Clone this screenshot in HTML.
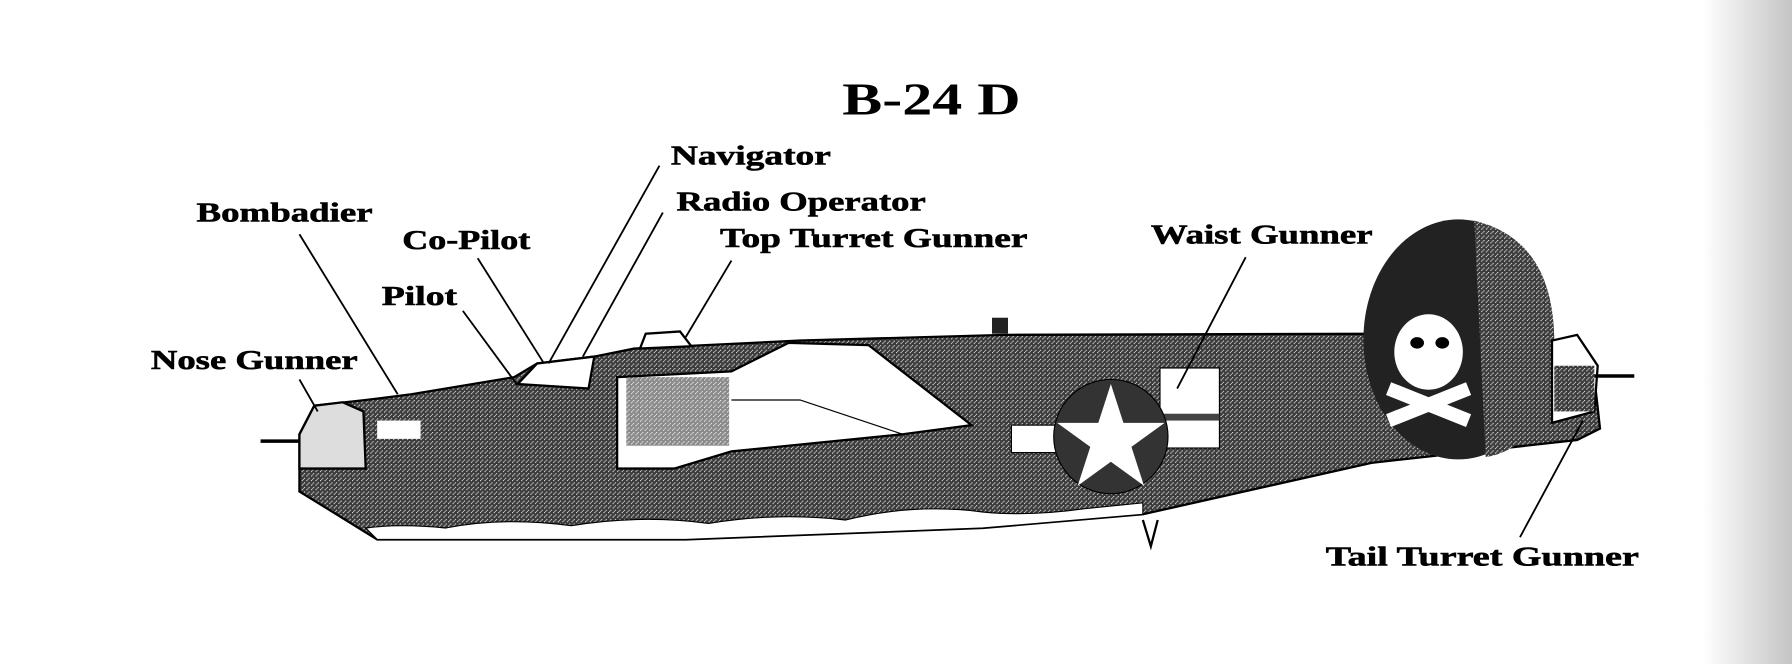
<!DOCTYPE html>
<html><head><meta charset="utf-8"><style>
html,body{margin:0;padding:0;background:#fff;width:1792px;height:664px;overflow:hidden}
svg{display:block}
text{font-family:"Liberation Serif",serif;font-weight:bold;fill:#000}
</style></head><body>
<svg width="1792" height="664" viewBox="0 0 1568 581" xmlns="http://www.w3.org/2000/svg">
<defs>
<pattern id="dots" width="4" height="4" patternUnits="userSpaceOnUse">
<rect width="4" height="4" fill="#3a3a3a"/><rect x="0" y="0" width="1" height="1" fill="#ddd"/><rect x="2" y="2" width="1" height="1" fill="#ddd"/><rect x="1" y="3" width="1" height="1" fill="#bbb"/>
</pattern>
<linearGradient id="strip" x1="0" x2="1" y1="0" y2="0">
<stop offset="0" stop-color="#fff"/><stop offset="1" stop-color="#c4c4c4"/>
</linearGradient>
</defs>
<rect x="1490" y="0" width="78" height="581" fill="url(#strip)"/>
<text x="737" y="100" font-size="40" textLength="156" lengthAdjust="spacingAndGlyphs">B-24 D</text>
<g font-size="24" stroke="#000" stroke-width="0.5">
<text x="587" y="144" textLength="140" lengthAdjust="spacingAndGlyphs">Navigator</text>
<text x="592" y="184" textLength="218" lengthAdjust="spacingAndGlyphs">Radio Operator</text>
<text x="172" y="194" textLength="154" lengthAdjust="spacingAndGlyphs">Bombadier</text>
<text x="352" y="218" textLength="112" lengthAdjust="spacingAndGlyphs">Co-Pilot</text>
<text x="630" y="216" textLength="269" lengthAdjust="spacingAndGlyphs">Top Turret Gunner</text>
<text x="1007" y="213" textLength="194" lengthAdjust="spacingAndGlyphs">Waist Gunner</text>
<text x="334" y="267" textLength="66" lengthAdjust="spacingAndGlyphs">Pilot</text>
<text x="132" y="323" textLength="181" lengthAdjust="spacingAndGlyphs">Nose Gunner</text>
<text x="1160" y="495" textLength="274" lengthAdjust="spacingAndGlyphs">Tail Turret Gunner</text>
</g>
<path d="M262,380 L275,355 L320,350 L360,345 L450,330 L470,318 L520,312 L555,305 L700,298 L880,293 L1200,292 L1370,300 L1395,330 L1400,375 L1380,385 L1200,405 L1000,450 L860,462 L600,472 L330,472 L262,430 Z" fill="url(#dots)" stroke="#000" stroke-width="2"/>
<path d="M330,472 L600,472 L860,462 L1000,450 L1000,440 L950,445 Q900,452 860,448 Q800,440 740,455 Q680,448 620,458 Q560,450 500,460 Q440,452 390,462 Q350,458 320,462 Z" fill="#fff" stroke="#000" stroke-width="1"/>
<path d="M453,336 L470,318 L520,312 L515,340 Z" fill="#fff" stroke="#000" stroke-width="2"/>
<path d="M540,330 L640,325 L690,300 L760,302 L850,372 L790,380 L640,395 L590,410 L540,410 Z" fill="#fff" stroke="#000" stroke-width="2"/>
<path d="M640,350 L700,350 L790,380" fill="none" stroke="#000"/>
<rect x="548" y="330" width="90" height="60" fill="url(#dots)" opacity="0.6"/>
<path d="M560,305 L565,292 L595,290 L605,303 Z" fill="#fff" stroke="#000" stroke-width="2"/>
<rect x="868" y="278" width="14" height="14" fill="#222"/>
<path d="M262,380 L275,355 L300,352 L318,360 L320,410 L262,410 Z" fill="#ddd" stroke="#000" stroke-width="2"/>
<line x1="228" y1="386" x2="262" y2="386" stroke="#000" stroke-width="3"/>
<rect x="330" y="368" width="38" height="16" fill="#fff"/>
<rect x="885" y="372" width="40" height="24" fill="#fff" stroke="#000"/>
<rect x="1015" y="322" width="52" height="70" fill="#fff" stroke="#000"/>
<rect x="1015" y="362" width="52" height="6" fill="#444"/>
<circle cx="972" cy="382" r="50" fill="#333" stroke="#000"/>
<polygon points="972,336 983,370 1019,370 990,391 1001,425 972,404 943,425 954,391 925,370 961,370" fill="#fff"/>
<ellipse cx="1276" cy="297" rx="83" ry="105" fill="#222"/>
<path d="M1290,193 Q1360,210 1360,300 Q1358,390 1300,400 Z" fill="url(#dots)"/>
<ellipse cx="1250" cy="308" rx="30" ry="33" fill="#fff"/>
<ellipse cx="1240" cy="300" rx="6" ry="5" fill="#000"/><ellipse cx="1262" cy="300" rx="6" ry="5" fill="#000"/>
<path d="M1215,340 L1285,368 M1285,340 L1215,368" stroke="#fff" stroke-width="12"/>
<path d="M1358,298 L1380,293 L1398,320 L1395,360 L1358,370 Z" fill="#fff" stroke="#000" stroke-width="2"/>
<rect x="1360" y="320" width="35" height="40" fill="url(#dots)"/>
<line x1="1395" y1="329" x2="1430" y2="329" stroke="#000" stroke-width="3"/>
<path d="M1000,455 L1007,478 L1013,455" fill="none" stroke="#000" stroke-width="2"/>
<g stroke="#000" stroke-width="1.6" fill="none">
<line x1="262" y1="205" x2="348" y2="345"/>
<line x1="418" y1="226" x2="476" y2="318"/>
<line x1="405" y1="272" x2="452" y2="336"/>
<line x1="577" y1="145" x2="480" y2="318"/>
<line x1="580" y1="186" x2="510" y2="312"/>
<line x1="640" y1="228" x2="600" y2="295"/>
<line x1="1090" y1="225" x2="1030" y2="340"/>
<line x1="262" y1="332" x2="278" y2="360"/>
<line x1="1330" y1="470" x2="1385" y2="368"/>
</g>
</svg>
</body></html>
